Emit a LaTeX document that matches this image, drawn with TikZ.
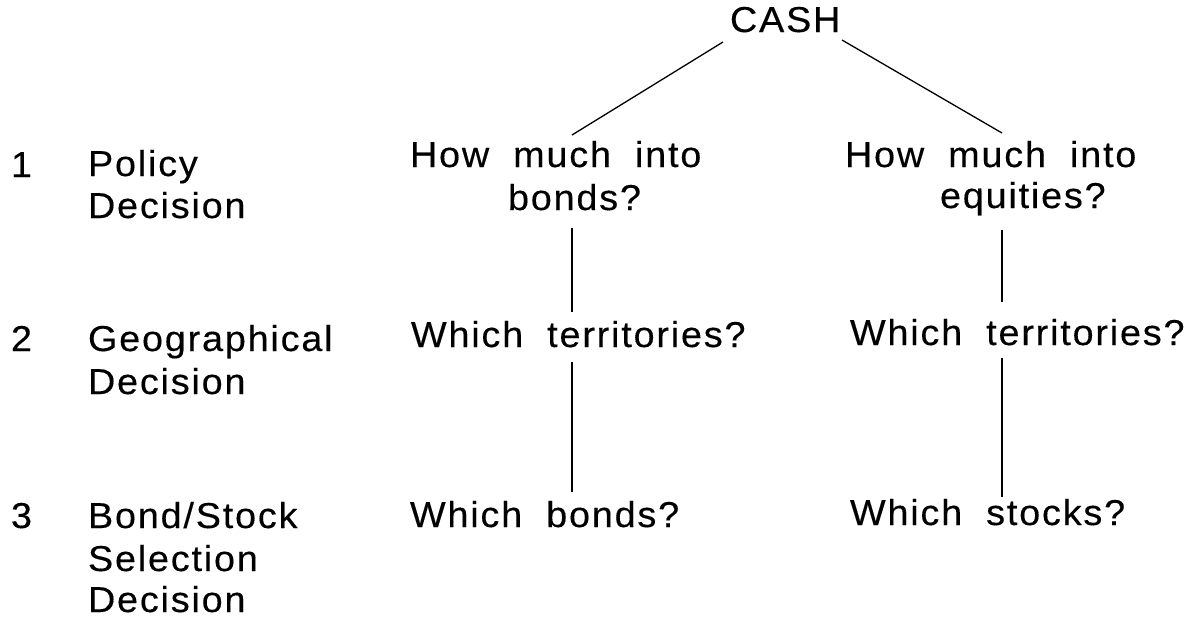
\documentclass[tikz,border=0pt]{standalone}
\usepackage{fontspec}
\setmainfont{Liberation Sans}[LetterSpace=5,FakeStretch=1.05,FakeBold=0.3]
\newcommand{\wsp}{\hspace*{24pt}}
\begin{document}
\begin{tikzpicture}[x=1pt,y=-1pt,
  lbl/.style={anchor=base west, inner sep=0pt, outer sep=0pt, font=\fontsize{36}{42}\selectfont},
  conn/.style={line width=1.3pt, black}]
\useasboundingbox (0,0) rectangle (1204,619);
% left column
\node[lbl] (n1) at (11,177) {1};
\node[lbl] (pol1) at (88,176) {Policy};
\node[lbl] (pol2) at (88,218) {Decision};
\node[lbl] (n2) at (11,351) {2};
\node[lbl] (geo1) at (88,351) {Geographical};
\node[lbl] (geo2) at (88,394) {Decision};
\node[lbl] (n3) at (11,528) {3};
\node[lbl] (sel1) at (88,528) {Bond/Stock};
\node[lbl] (sel2) at (88,571) {Selection};
\node[lbl] (sel3) at (88,612) {Decision};
% tree
\node[lbl] (cash) at (730,32) {CASH};
\node[lbl] (bq1) at (410,167) {How\wsp much\wsp into};
\node[lbl] (bq2) at (508,210) {bonds?};
\node[lbl] (bt) at (411,347) {Which\wsp territories?};
\node[lbl] (bb) at (410,527) {Which\wsp bonds?};
\node[lbl] (eq1) at (845,167) {How\wsp much\wsp into};
\node[lbl] (eq2) at (940,208) {equities?};
\node[lbl] (et) at (850,345) {Which\wsp territories?};
\node[lbl] (es) at (850,525) {Which\wsp stocks?};
% connector end points
\coordinate (cl) at (723,42);
\coordinate (cr) at (842,40);
\coordinate (bqt) at (572,135);
\coordinate (eqt) at (1002,133);
\coordinate (b1) at (572,228);
\coordinate (b2) at (572,312);
\coordinate (b3) at (572,362);
\coordinate (b4) at (572,492);
\coordinate (e1) at (1002,230);
\coordinate (e2) at (1002,302);
\coordinate (e3) at (1002,358);
\coordinate (e4) at (1002,497);
\draw[conn] (cl) -- (bqt);
\draw[conn] (cr) -- (eqt);
\draw[conn] (b1) -- (b2);
\draw[conn] (b3) -- (b4);
\draw[conn] (e1) -- (e2);
\draw[conn] (e3) -- (e4);
\end{tikzpicture}
\end{document}
